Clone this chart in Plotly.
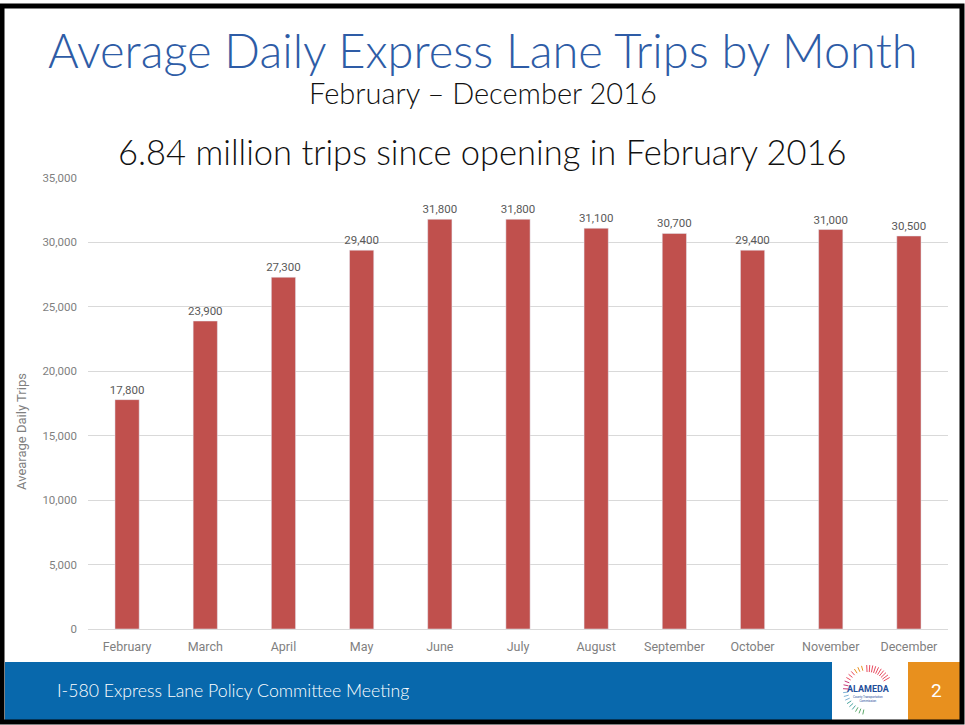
import plotly.graph_objects as go
import math

months = ["February", "March", "April", "May", "June", "July", "August",
          "September", "October", "November", "December"]
trips = [17800, 23900, 27300, 29400, 31800, 31800, 31100, 30700, 29400, 31000, 30500]
y_ticks = [0, 5000, 10000, 15000, 20000, 25000, 30000, 35000]

W, H = 965, 725
L, R, T, B = 88, 948, 178, 629

def px(x):
    return (x - L) / (R - L)

def py(y):
    return (B - y) / (B - T)

fig = go.Figure()
fig.add_trace(go.Bar(
    x=months, y=trips, marker_color="#C0504D", width=0.31,
    text=[f"{v:,}" for v in trips], textposition="outside", constraintext="none",
    textfont=dict(size=11.5, color="#595959", family="Roboto"),
    cliponaxis=False,
))

shapes = [
    dict(type="rect", xref="paper", yref="paper", x0=px(2), x1=px(962), y0=py(722), y1=py(6),
         line=dict(color="black", width=5), fillcolor="rgba(0,0,0,0)", layer="above"),
    dict(type="rect", xref="paper", yref="paper", x0=px(5), x1=px(832), y0=py(720), y1=py(662),
         line=dict(width=0), fillcolor="#0868AC", layer="below"),
    dict(type="rect", xref="paper", yref="paper", x0=px(908), x1=px(960), y0=py(720), y1=py(662),
         line=dict(width=0), fillcolor="#E8901E", layer="below"),
]

# simple logo arcs (decorative)
cx, cy, rr = 868, 690, 25
cols = ["#E8901E", "#E84A5F", "#C83A7A", "#7FB3D5", "#4AA3A0", "#5DA86B"]
for i, a in enumerate(range(105, 260, 9)):
    ang = math.radians(a)
    c = cols[min(i // 3, len(cols) - 1)]
    x0 = cx + rr * math.cos(ang); y0 = cy - rr * math.sin(ang)
    x1 = cx + (rr - 5) * math.cos(ang); y1 = cy - (rr - 5) * math.sin(ang)
    shapes.append(dict(type="line", xref="paper", yref="paper", x0=px(x0), y0=py(y0), x1=px(x1), y1=py(y1),
                       line=dict(color=c, width=1)))
for i, a in enumerate(range(30, 95, 7)):
    ang = math.radians(a)
    x0 = cx + rr * math.cos(ang); y0 = cy - rr * math.sin(ang)
    x1 = cx + (rr - 7) * math.cos(ang); y1 = cy - (rr - 7) * math.sin(ang)
    shapes.append(dict(type="line", xref="paper", yref="paper", x0=px(x0), y0=py(y0), x1=px(x1), y1=py(y1),
                       line=dict(color="#E84A5F", width=1)))

annotations = [
    dict(text="Average Daily Express Lane Trips by Month", x=px(483), y=py(50), xref="paper", yref="paper",
         showarrow=False, font=dict(size=47, color="#2E5CA6", family="Lato", weight=300),
         xanchor="center", yanchor="middle"),
    dict(text="February – December 2016", x=px(483), y=py(92), xref="paper", yref="paper",
         showarrow=False, font=dict(size=29, color="#111111", family="Lato", weight=300),
         xanchor="center", yanchor="middle"),
    dict(text="6.84 million trips since opening in February 2016", x=px(482), y=py(151), xref="paper", yref="paper",
         showarrow=False, font=dict(size=34.5, color="#111111", family="Lato", weight=300),
         xanchor="center", yanchor="middle"),
    dict(text="Avearage Daily Trips", x=px(21), y=py(432), xref="paper", yref="paper", textangle=-90,
         showarrow=False, font=dict(size=13, color="#7F7F7F", family="Roboto"), xanchor="center", yanchor="middle"),
    dict(text="I-580 Express Lane Policy Committee Meeting", x=px(55), y=py(690), xref="paper", yref="paper",
         showarrow=False, font=dict(size=17.7, color="white", family="Lato", weight=300),
         xanchor="left", yanchor="middle"),
    dict(text="2", x=px(936), y=py(690), xref="paper", yref="paper",
         showarrow=False, font=dict(size=19, color="white", family="Roboto"), xanchor="center", yanchor="middle"),
    dict(text="<b>ALAMEDA</b>", x=px(868), y=py(689), xref="paper", yref="paper",
         showarrow=False, font=dict(size=9, color="#1F4E9A", family="Roboto"), xanchor="center", yanchor="middle"),
    dict(text="County Transportation<br>Commission", x=px(868), y=py(699), xref="paper", yref="paper",
         showarrow=False, font=dict(size=3, color="#1F4E9A", family="Roboto"), xanchor="center", yanchor="middle"),
]

fig.update_layout(
    width=W, height=H,
    margin=dict(l=L, r=W - R, t=T, b=H - B),
    paper_bgcolor="white", plot_bgcolor="white",
    showlegend=False,
    shapes=shapes, annotations=annotations,
    xaxis=dict(tickfont=dict(size=12.5, color="#7F7F7F", family="Roboto"), showgrid=False,
               showline=False, ticks="", fixedrange=True, ticklabelstandoff=8),
    yaxis=dict(range=[0, 35000], tickvals=y_ticks, tickformat=",", showgrid=True, gridcolor="#D9D9D9",
               gridwidth=1, zeroline=True, zerolinecolor="#D9D9D9", zerolinewidth=1,
               tickfont=dict(size=11.5, color="#7F7F7F", family="Roboto"), ticklabelstandoff=10,
               showline=False),
)

fig.write_html("out.html")
